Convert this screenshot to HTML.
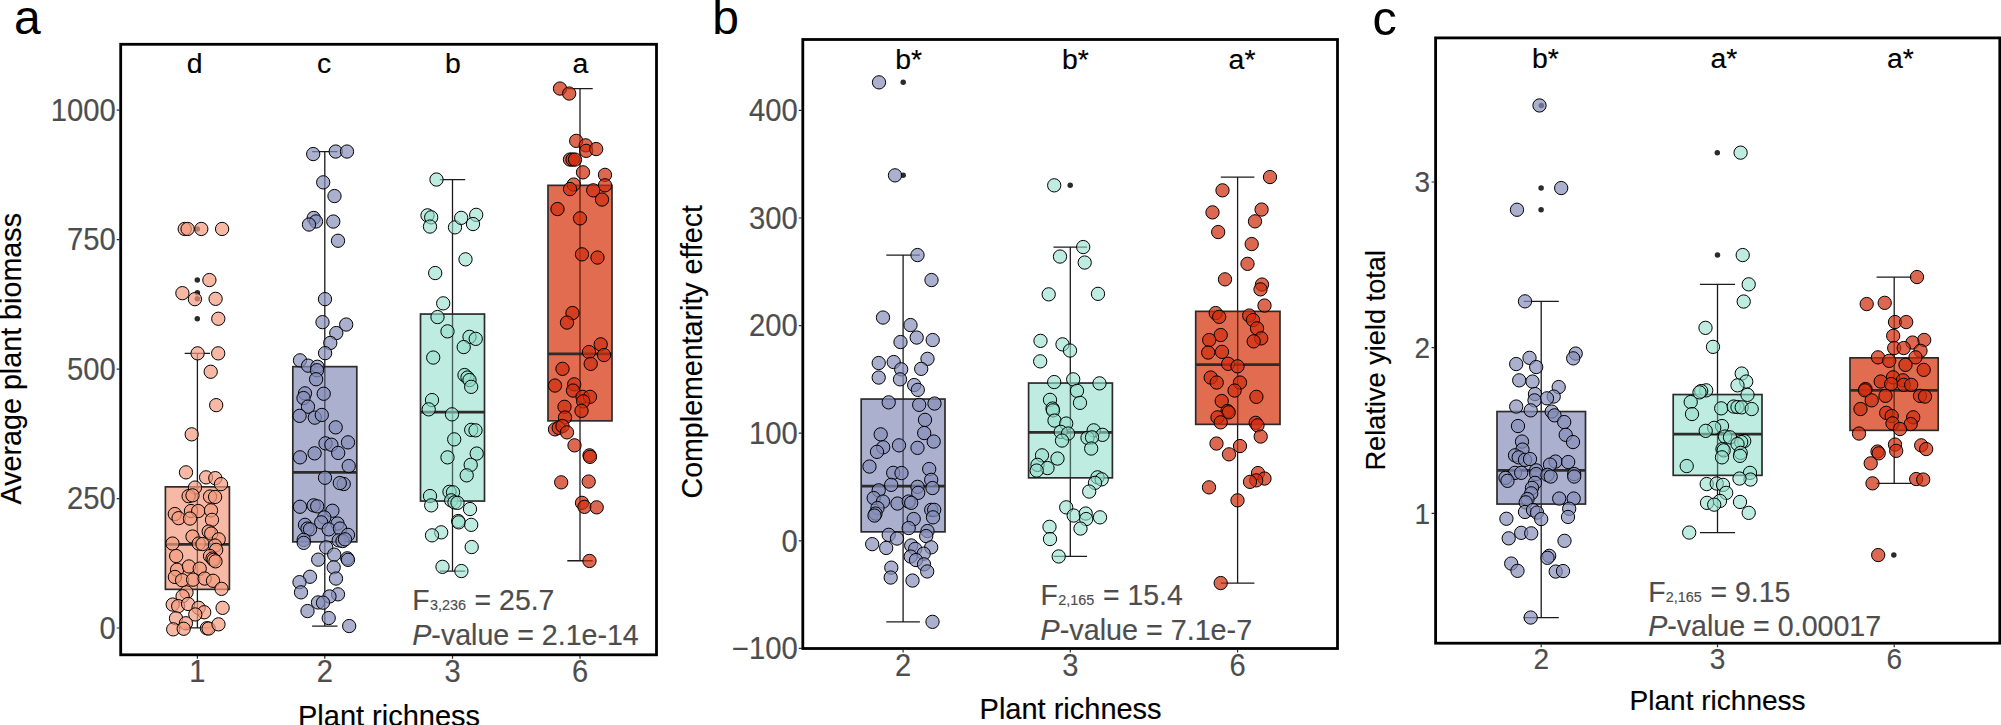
<!DOCTYPE html>
<html lang="en"><head><meta charset="utf-8"><title>Plant richness boxplots</title>
<style>
html,body{margin:0;padding:0;background:#fff;}
body{width:2001px;height:725px;overflow:hidden;}
svg{display:block;}
text{font-family:"Liberation Sans", sans-serif;}
.eb{fill:none;stroke:#1c1a1a;stroke-width:1.3;}
.bx{stroke:#2e2b2b;stroke-width:1.7;}
.md{fill:none;stroke:#2e2b2b;stroke-width:2.7;}
.fr{fill:none;stroke:#000;stroke-width:2.8;}
.tk{fill:none;stroke:#2e2b2b;stroke-width:1.2;}
</style></head><body>
<svg width="2001" height="725" viewBox="0 0 2001 725">
<rect width="2001" height="725" fill="#fff"/>
<g id="panel-a">
<g transform="translate(0 0.35)">
<path d="M184.7 353H210.1M184.7 627.5H210.1M197.4 353V627.5" class="eb"/>
<path d="M312.1 151.2H337.5M312.1 625.7H337.5M324.8 151.2V625.7" class="eb"/>
<path d="M439.8 179.2H465.2M439.8 570.7H465.2M452.5 179.2V570.7" class="eb"/>
<path d="M567.3 88.2H592.7M567.3 560.4H592.7M580 88.2V560.4" class="eb"/>
<rect x="165.4" y="486.5" width="64" height="102.5" fill="#F39B7F" fill-opacity="0.7" class="bx"/>
<path d="M165.4 544H229.4" class="md"/>
<path d="M197.4 486.5V589" class="eb" stroke-opacity="0.4"/>
<rect x="292.8" y="366.3" width="64" height="175.2" fill="#868FB9" fill-opacity="0.7" class="bx"/>
<path d="M292.8 472H356.8" class="md"/>
<path d="M324.8 366.3V541.5" class="eb" stroke-opacity="0.4"/>
<rect x="420.5" y="313.7" width="64" height="187" fill="#94DFCB" fill-opacity="0.6" class="bx"/>
<path d="M420.5 411.7H484.5" class="md"/>
<path d="M452.5 313.7V500.7" class="eb" stroke-opacity="0.4"/>
<rect x="548" y="185" width="64" height="235.5" fill="#D5330B" fill-opacity="0.72" class="bx"/>
<path d="M548 353.5H612" class="md"/>
<path d="M580 185V420.5" class="eb" stroke-opacity="0.4"/>
<g fill="#2b2b2b">
<circle cx="197.3" cy="228.6" r="2.75"/>
<circle cx="197.3" cy="279.7" r="2.75"/>
<circle cx="197.4" cy="292.3" r="2.75"/>
<circle cx="197.3" cy="298.3" r="2.75"/>
<circle cx="197.3" cy="318.4" r="2.75"/>
</g>
<g fill="#F39B7F" fill-opacity="0.7" stroke="#000" stroke-width="1.0">
<circle cx="184.7" cy="228.6" r="6.65"/>
<circle cx="187.6" cy="228.6" r="6.65"/>
<circle cx="201.3" cy="228.6" r="6.65"/>
<circle cx="222.1" cy="228.6" r="6.65"/>
<circle cx="209.4" cy="279.7" r="6.65"/>
<circle cx="182.4" cy="292.8" r="6.65"/>
<circle cx="194.9" cy="298.8" r="6.65"/>
<circle cx="215.6" cy="298.5" r="6.65"/>
<circle cx="218.3" cy="318.4" r="6.65"/>
<circle cx="197.6" cy="353" r="6.65"/>
<circle cx="218.2" cy="353" r="6.65"/>
<circle cx="210.7" cy="371.4" r="6.65"/>
<circle cx="216.2" cy="404.8" r="6.65"/>
<circle cx="191.7" cy="434" r="6.65"/>
<circle cx="186" cy="472" r="6.65"/>
<circle cx="206.1" cy="477" r="6.65"/>
<circle cx="215.3" cy="477.8" r="6.65"/>
<circle cx="221" cy="483.8" r="6.65"/>
<circle cx="195" cy="487.2" r="6.65"/>
<circle cx="188.6" cy="495.8" r="6.65"/>
<circle cx="192.5" cy="495" r="6.65"/>
<circle cx="210" cy="496.2" r="6.65"/>
<circle cx="215.1" cy="496.6" r="6.65"/>
<circle cx="174.8" cy="513.7" r="6.65"/>
<circle cx="191" cy="510.7" r="6.65"/>
<circle cx="198.2" cy="510.7" r="6.65"/>
<circle cx="211" cy="510" r="6.65"/>
<circle cx="178.6" cy="517.8" r="6.65"/>
<circle cx="190" cy="518.2" r="6.65"/>
<circle cx="212" cy="519.5" r="6.65"/>
<circle cx="208.7" cy="531.2" r="6.65"/>
<circle cx="211.2" cy="533.2" r="6.65"/>
<circle cx="192.5" cy="536.2" r="6.65"/>
<circle cx="218.7" cy="539" r="6.65"/>
<circle cx="172.5" cy="543.2" r="6.65"/>
<circle cx="198.7" cy="543.2" r="6.65"/>
<circle cx="202.5" cy="543.7" r="6.65"/>
<circle cx="215" cy="545.2" r="6.65"/>
<circle cx="216.2" cy="549.5" r="6.65"/>
<circle cx="176.2" cy="555.7" r="6.65"/>
<circle cx="210" cy="555.7" r="6.65"/>
<circle cx="212.5" cy="558.2" r="6.65"/>
<circle cx="213.7" cy="559.5" r="6.65"/>
<circle cx="215.5" cy="561" r="6.65"/>
<circle cx="177.1" cy="569.4" r="6.65"/>
<circle cx="188.9" cy="566.1" r="6.65"/>
<circle cx="199.7" cy="568.3" r="6.65"/>
<circle cx="174.9" cy="576.6" r="6.65"/>
<circle cx="182.1" cy="579.9" r="6.65"/>
<circle cx="193.1" cy="579.3" r="6.65"/>
<circle cx="204.7" cy="578.2" r="6.65"/>
<circle cx="213" cy="580.4" r="6.65"/>
<circle cx="221.5" cy="588.5" r="6.65"/>
<circle cx="186.5" cy="592" r="6.65"/>
<circle cx="182.6" cy="595.9" r="6.65"/>
<circle cx="172.7" cy="604.2" r="6.65"/>
<circle cx="178.2" cy="605.8" r="6.65"/>
<circle cx="188.1" cy="603.6" r="6.65"/>
<circle cx="198.6" cy="607.5" r="6.65"/>
<circle cx="204.2" cy="611.9" r="6.65"/>
<circle cx="222.6" cy="607.5" r="6.65"/>
<circle cx="195.3" cy="614.1" r="6.65"/>
<circle cx="176" cy="618" r="6.65"/>
<circle cx="185.9" cy="622.9" r="6.65"/>
<circle cx="173.2" cy="629" r="6.65"/>
<circle cx="183.7" cy="628.4" r="6.65"/>
<circle cx="206.9" cy="627.9" r="6.65"/>
<circle cx="208.6" cy="628.2" r="6.65"/>
<circle cx="218.5" cy="624" r="6.65"/>
</g>
<g fill="#868FB9" fill-opacity="0.7" stroke="#000" stroke-width="1.0">
<circle cx="313.2" cy="153.7" r="6.65"/>
<circle cx="335.7" cy="151.2" r="6.65"/>
<circle cx="347" cy="151.2" r="6.65"/>
<circle cx="323.2" cy="182" r="6.65"/>
<circle cx="334.5" cy="195.7" r="6.65"/>
<circle cx="313.7" cy="217.6" r="6.65"/>
<circle cx="316" cy="221.1" r="6.65"/>
<circle cx="309" cy="224.2" r="6.65"/>
<circle cx="333.3" cy="221.2" r="6.65"/>
<circle cx="338" cy="240.4" r="6.65"/>
<circle cx="325" cy="298.8" r="6.65"/>
<circle cx="322.5" cy="321.8" r="6.65"/>
<circle cx="346.2" cy="324.2" r="6.65"/>
<circle cx="336.3" cy="332.7" r="6.65"/>
<circle cx="330.3" cy="342.6" r="6.65"/>
<circle cx="325.1" cy="352.8" r="6.65"/>
<circle cx="300" cy="360" r="6.65"/>
<circle cx="308.1" cy="365.3" r="6.65"/>
<circle cx="317.4" cy="366.4" r="6.65"/>
<circle cx="317" cy="369.9" r="6.65"/>
<circle cx="316.1" cy="378.9" r="6.65"/>
<circle cx="305" cy="393" r="6.65"/>
<circle cx="323.7" cy="393.4" r="6.65"/>
<circle cx="303.5" cy="397.7" r="6.65"/>
<circle cx="308" cy="406.3" r="6.65"/>
<circle cx="299.6" cy="415.5" r="6.65"/>
<circle cx="314.8" cy="417.3" r="6.65"/>
<circle cx="321.8" cy="414.6" r="6.65"/>
<circle cx="335.7" cy="427" r="6.65"/>
<circle cx="348" cy="442" r="6.65"/>
<circle cx="325.5" cy="443" r="6.65"/>
<circle cx="331.4" cy="444.4" r="6.65"/>
<circle cx="314.6" cy="453" r="6.65"/>
<circle cx="338.2" cy="452.6" r="6.65"/>
<circle cx="300" cy="457" r="6.65"/>
<circle cx="348.7" cy="465.7" r="6.65"/>
<circle cx="325" cy="477.4" r="6.65"/>
<circle cx="343.7" cy="483.7" r="6.65"/>
<circle cx="339.8" cy="482.7" r="6.65"/>
<circle cx="300" cy="506.4" r="6.65"/>
<circle cx="313.7" cy="505" r="6.65"/>
<circle cx="317.2" cy="506" r="6.65"/>
<circle cx="332.4" cy="510.4" r="6.65"/>
<circle cx="324.3" cy="517.1" r="6.65"/>
<circle cx="321.2" cy="522" r="6.65"/>
<circle cx="337.5" cy="523.2" r="6.65"/>
<circle cx="305" cy="524.5" r="6.65"/>
<circle cx="307.5" cy="528.2" r="6.65"/>
<circle cx="310" cy="529" r="6.65"/>
<circle cx="328.7" cy="529" r="6.65"/>
<circle cx="340" cy="528.2" r="6.65"/>
<circle cx="348" cy="534.5" r="6.65"/>
<circle cx="303.7" cy="539.5" r="6.65"/>
<circle cx="303.7" cy="542.5" r="6.65"/>
<circle cx="338.7" cy="540" r="6.65"/>
<circle cx="342.5" cy="540.7" r="6.65"/>
<circle cx="345" cy="539" r="6.65"/>
<circle cx="326.2" cy="547" r="6.65"/>
<circle cx="334.2" cy="554.3" r="6.65"/>
<circle cx="347.3" cy="558" r="6.65"/>
<circle cx="348" cy="559.5" r="6.65"/>
<circle cx="318.2" cy="559.3" r="6.65"/>
<circle cx="333.7" cy="567" r="6.65"/>
<circle cx="310" cy="576.4" r="6.65"/>
<circle cx="336" cy="578.2" r="6.65"/>
<circle cx="299.5" cy="581.8" r="6.65"/>
<circle cx="301" cy="592" r="6.65"/>
<circle cx="338" cy="594" r="6.65"/>
<circle cx="329.5" cy="596.1" r="6.65"/>
<circle cx="318" cy="602.1" r="6.65"/>
<circle cx="323" cy="602.3" r="6.65"/>
<circle cx="307.5" cy="610.7" r="6.65"/>
<circle cx="328.7" cy="617.7" r="6.65"/>
<circle cx="349.2" cy="625.7" r="6.65"/>
</g>
<g fill="#94DFCB" fill-opacity="0.6" stroke="#000" stroke-width="1.0">
<circle cx="436.5" cy="179.2" r="6.65"/>
<circle cx="427.5" cy="215" r="6.65"/>
<circle cx="431.2" cy="217" r="6.65"/>
<circle cx="430" cy="226.2" r="6.65"/>
<circle cx="455" cy="227" r="6.65"/>
<circle cx="461.2" cy="217.5" r="6.65"/>
<circle cx="476.2" cy="214.5" r="6.65"/>
<circle cx="473" cy="223.7" r="6.65"/>
<circle cx="465.5" cy="259" r="6.65"/>
<circle cx="435.2" cy="272.7" r="6.65"/>
<circle cx="443.2" cy="303" r="6.65"/>
<circle cx="437.5" cy="316.7" r="6.65"/>
<circle cx="447.5" cy="331" r="6.65"/>
<circle cx="469.5" cy="336.5" r="6.65"/>
<circle cx="475.7" cy="338.5" r="6.65"/>
<circle cx="463.7" cy="346.7" r="6.65"/>
<circle cx="433.2" cy="357.2" r="6.65"/>
<circle cx="464.5" cy="374.7" r="6.65"/>
<circle cx="467.5" cy="377.2" r="6.65"/>
<circle cx="469.5" cy="379.7" r="6.65"/>
<circle cx="471.2" cy="386.5" r="6.65"/>
<circle cx="432" cy="399.7" r="6.65"/>
<circle cx="428.7" cy="409" r="6.65"/>
<circle cx="452" cy="414" r="6.65"/>
<circle cx="471.2" cy="429.5" r="6.65"/>
<circle cx="475.5" cy="430" r="6.65"/>
<circle cx="454.2" cy="439" r="6.65"/>
<circle cx="476.7" cy="453.2" r="6.65"/>
<circle cx="447.5" cy="457" r="6.65"/>
<circle cx="470.7" cy="464.5" r="6.65"/>
<circle cx="466.7" cy="475" r="6.65"/>
<circle cx="430" cy="495.7" r="6.65"/>
<circle cx="449.5" cy="491.5" r="6.65"/>
<circle cx="453" cy="492" r="6.65"/>
<circle cx="451.2" cy="500" r="6.65"/>
<circle cx="454.5" cy="502" r="6.65"/>
<circle cx="457.5" cy="502.5" r="6.65"/>
<circle cx="431.2" cy="505" r="6.65"/>
<circle cx="470" cy="508.7" r="6.65"/>
<circle cx="458.2" cy="520.7" r="6.65"/>
<circle cx="458.7" cy="522" r="6.65"/>
<circle cx="471.2" cy="524.5" r="6.65"/>
<circle cx="441.2" cy="532" r="6.65"/>
<circle cx="432" cy="535" r="6.65"/>
<circle cx="471.7" cy="546.7" r="6.65"/>
<circle cx="442.5" cy="566.5" r="6.65"/>
<circle cx="461.4" cy="570.7" r="6.65"/>
</g>
<g fill="#D02E0F" fill-opacity="0.72" stroke="#000" stroke-width="1.0">
<circle cx="560" cy="88.2" r="6.65"/>
<circle cx="569.2" cy="93.2" r="6.65"/>
<circle cx="576.2" cy="140.5" r="6.65"/>
<circle cx="585.7" cy="145" r="6.65"/>
<circle cx="586.2" cy="150.5" r="6.65"/>
<circle cx="596.2" cy="148.7" r="6.65"/>
<circle cx="570" cy="159.2" r="6.65"/>
<circle cx="572.5" cy="159.2" r="6.65"/>
<circle cx="575" cy="159.2" r="6.65"/>
<circle cx="583" cy="172" r="6.65"/>
<circle cx="605" cy="174.5" r="6.65"/>
<circle cx="573.7" cy="184.2" r="6.65"/>
<circle cx="605" cy="185" r="6.65"/>
<circle cx="570" cy="188.7" r="6.65"/>
<circle cx="593.2" cy="190" r="6.65"/>
<circle cx="602" cy="199.2" r="6.65"/>
<circle cx="557.5" cy="208.7" r="6.65"/>
<circle cx="580" cy="218" r="6.65"/>
<circle cx="582" cy="254" r="6.65"/>
<circle cx="597.5" cy="257.2" r="6.65"/>
<circle cx="572.5" cy="312.7" r="6.65"/>
<circle cx="567" cy="322.2" r="6.65"/>
<circle cx="600.7" cy="344" r="6.65"/>
<circle cx="589" cy="351.7" r="6.65"/>
<circle cx="604" cy="354.7" r="6.65"/>
<circle cx="590.7" cy="363.5" r="6.65"/>
<circle cx="562.5" cy="368.5" r="6.65"/>
<circle cx="555" cy="385.2" r="6.65"/>
<circle cx="574.2" cy="384" r="6.65"/>
<circle cx="573" cy="390.2" r="6.65"/>
<circle cx="582.5" cy="396.5" r="6.65"/>
<circle cx="590" cy="396.5" r="6.65"/>
<circle cx="583.2" cy="401" r="6.65"/>
<circle cx="564.5" cy="406.5" r="6.65"/>
<circle cx="581.5" cy="410.5" r="6.65"/>
<circle cx="565" cy="417.2" r="6.65"/>
<circle cx="555" cy="429" r="6.65"/>
<circle cx="558.7" cy="427.5" r="6.65"/>
<circle cx="562.5" cy="425.7" r="6.65"/>
<circle cx="567" cy="432" r="6.65"/>
<circle cx="574.5" cy="445" r="6.65"/>
<circle cx="589.5" cy="455" r="6.65"/>
<circle cx="590" cy="456.5" r="6.65"/>
<circle cx="561.2" cy="482" r="6.65"/>
<circle cx="588.7" cy="481.2" r="6.65"/>
<circle cx="582" cy="502.5" r="6.65"/>
<circle cx="584.5" cy="506.5" r="6.65"/>
<circle cx="596.7" cy="507" r="6.65"/>
<circle cx="589.5" cy="560.6" r="6.65"/>
</g>
</g>
<path d="M116.7 110.2H119.4M116.7 239.7H119.4M116.7 369.1H119.4M116.7 498.6H119.4M116.7 628H119.4" class="tk"/>
<text x="50.8" y="120.9" font-size="30.7" fill="#4d4d4d" stroke="#4d4d4d" stroke-width="0.15" textLength="65" lengthAdjust="spacingAndGlyphs">1000</text>
<text x="67.1" y="250.3" font-size="30.7" fill="#4d4d4d" stroke="#4d4d4d" stroke-width="0.15" textLength="48.7" lengthAdjust="spacingAndGlyphs">750</text>
<text x="67.1" y="379.8" font-size="30.7" fill="#4d4d4d" stroke="#4d4d4d" stroke-width="0.15" textLength="48.7" lengthAdjust="spacingAndGlyphs">500</text>
<text x="67.1" y="509.2" font-size="30.7" fill="#4d4d4d" stroke="#4d4d4d" stroke-width="0.15" textLength="48.7" lengthAdjust="spacingAndGlyphs">250</text>
<text x="99.6" y="638.7" font-size="30.7" fill="#4d4d4d" stroke="#4d4d4d" stroke-width="0.15" textLength="16.2" lengthAdjust="spacingAndGlyphs">0</text>
<path d="M197.4 656.1V658.8M324.8 656.1V658.8M452.5 656.1V658.8M580 656.1V658.8" class="tk"/>
<text x="189.3" y="682" font-size="30.7" fill="#4d4d4d" stroke="#4d4d4d" stroke-width="0.15" textLength="16.2" lengthAdjust="spacingAndGlyphs">1</text>
<text x="316.7" y="682" font-size="30.7" fill="#4d4d4d" stroke="#4d4d4d" stroke-width="0.15" textLength="16.2" lengthAdjust="spacingAndGlyphs">2</text>
<text x="444.4" y="682" font-size="30.7" fill="#4d4d4d" stroke="#4d4d4d" stroke-width="0.15" textLength="16.2" lengthAdjust="spacingAndGlyphs">3</text>
<text x="571.9" y="682" font-size="30.7" fill="#4d4d4d" stroke="#4d4d4d" stroke-width="0.15" textLength="16.2" lengthAdjust="spacingAndGlyphs">6</text>
<rect x="120.7" y="44.3" width="535.8" height="610.5" class="fr"/>
<text x="186.7" y="73.2" font-size="28.4" fill="#000" stroke="#000" stroke-width="0.15">d</text>
<text x="317.1" y="73.2" font-size="28.4" fill="#000" stroke="#000" stroke-width="0.15">c</text>
<text x="445.1" y="73.2" font-size="28.4" fill="#000" stroke="#000" stroke-width="0.15">b</text>
<text x="572.5" y="73.2" font-size="28.4" fill="#000" stroke="#000" stroke-width="0.15">a</text>
<text x="13.9" y="34.4" font-size="48" fill="#000" stroke="#000" stroke-width="0">a</text>
<text transform="translate(21.2 504.5) rotate(-90)" font-size="29.0" fill="#000" stroke="#000" stroke-width="0.15" textLength="291.5" lengthAdjust="spacingAndGlyphs">Average plant biomass</text>
<text x="298" y="726" font-size="29.2" fill="#000" stroke="#000" stroke-width="0.15" textLength="182" lengthAdjust="spacingAndGlyphs">Plant richness</text>
<text x="412.3" y="610.2" font-size="29.8" fill="#4d4d4d" stroke="#4d4d4d" stroke-width="0.15" textLength="17.3" lengthAdjust="spacingAndGlyphs">F</text>
<text x="429.9" y="610.2" font-size="15.1" fill="#4d4d4d" stroke="#4d4d4d" stroke-width="0.15" textLength="36" lengthAdjust="spacingAndGlyphs">3,236</text>
<text x="474.6" y="610.2" font-size="29.8" fill="#4d4d4d" stroke="#4d4d4d" stroke-width="0.15" textLength="79.8" lengthAdjust="spacingAndGlyphs">= 25.7</text>
<text x="412.3" y="644.5" font-size="29" fill="#4d4d4d" stroke="#4d4d4d" stroke-width="0.15" textLength="226.5" lengthAdjust="spacingAndGlyphs"><tspan font-style="italic">P</tspan>-value = 2.1e-14</text>
</g>
<g id="panel-b">
<g transform="translate(0 0.35)">
<path d="M886.3 254.7H919.9M886.3 621.5H919.9M903.1 254.7V621.5" class="eb"/>
<path d="M1053.5 246.7H1087.1M1053.5 556.1H1087.1M1070.3 246.7V556.1" class="eb"/>
<path d="M1220.8 176.7H1254.4M1220.8 582.7H1254.4M1237.6 176.7V582.7" class="eb"/>
<rect x="861.2" y="398.7" width="83.8" height="132.8" fill="#868FB9" fill-opacity="0.7" class="bx"/>
<path d="M861.2 485.7H945" class="md"/>
<path d="M903.1 398.7V531.5" class="eb" stroke-opacity="0.4"/>
<rect x="1028.6" y="382.7" width="83.8" height="94.8" fill="#94DFCB" fill-opacity="0.6" class="bx"/>
<path d="M1028.6 432H1112.4" class="md"/>
<path d="M1070.5 382.7V477.5" class="eb" stroke-opacity="0.4"/>
<rect x="1195.7" y="311" width="84.3" height="113" fill="#D5330B" fill-opacity="0.72" class="bx"/>
<path d="M1195.7 364.2H1280" class="md"/>
<path d="M1237.8 311V424" class="eb" stroke-opacity="0.4"/>
<g fill="#2b2b2b">
<circle cx="903.2" cy="82" r="2.75"/>
<circle cx="903.2" cy="175" r="2.75"/>
<circle cx="1070.2" cy="185" r="2.75"/>
</g>
<g fill="#868FB9" fill-opacity="0.7" stroke="#000" stroke-width="1.0">
<circle cx="879" cy="82" r="6.65"/>
<circle cx="895" cy="175" r="6.65"/>
<circle cx="917.5" cy="254.7" r="6.65"/>
<circle cx="931.5" cy="279.7" r="6.65"/>
<circle cx="883" cy="317.2" r="6.65"/>
<circle cx="910.5" cy="324.7" r="6.65"/>
<circle cx="916.7" cy="337.2" r="6.65"/>
<circle cx="932.7" cy="339.7" r="6.65"/>
<circle cx="900.5" cy="341.7" r="6.65"/>
<circle cx="927.5" cy="358.5" r="6.65"/>
<circle cx="878.7" cy="362.7" r="6.65"/>
<circle cx="893.7" cy="361.7" r="6.65"/>
<circle cx="901.2" cy="369" r="6.65"/>
<circle cx="921.2" cy="368.5" r="6.65"/>
<circle cx="878.7" cy="377.2" r="6.65"/>
<circle cx="900" cy="379" r="6.65"/>
<circle cx="914.2" cy="384.7" r="6.65"/>
<circle cx="917.8" cy="389.5" r="6.65"/>
<circle cx="888.7" cy="402" r="6.65"/>
<circle cx="919.2" cy="404.5" r="6.65"/>
<circle cx="934.5" cy="403.2" r="6.65"/>
<circle cx="925" cy="419.5" r="6.65"/>
<circle cx="924.2" cy="432.7" r="6.65"/>
<circle cx="880.7" cy="434" r="6.65"/>
<circle cx="933.7" cy="441.2" r="6.65"/>
<circle cx="899" cy="445" r="6.65"/>
<circle cx="917.5" cy="447.5" r="6.65"/>
<circle cx="883.2" cy="447" r="6.65"/>
<circle cx="877" cy="451.5" r="6.65"/>
<circle cx="869.5" cy="466.2" r="6.65"/>
<circle cx="929.2" cy="468.7" r="6.65"/>
<circle cx="893.2" cy="472.5" r="6.65"/>
<circle cx="901.5" cy="472.7" r="6.65"/>
<circle cx="931.2" cy="479.5" r="6.65"/>
<circle cx="891.2" cy="484.5" r="6.65"/>
<circle cx="917.5" cy="486.5" r="6.65"/>
<circle cx="932.5" cy="487.7" r="6.65"/>
<circle cx="878.7" cy="490" r="6.65"/>
<circle cx="918.2" cy="492.5" r="6.65"/>
<circle cx="873.7" cy="497.7" r="6.65"/>
<circle cx="883" cy="501.2" r="6.65"/>
<circle cx="897.5" cy="503.2" r="6.65"/>
<circle cx="908.7" cy="501.2" r="6.65"/>
<circle cx="911.2" cy="502.5" r="6.65"/>
<circle cx="877.5" cy="507.7" r="6.65"/>
<circle cx="931.2" cy="509.5" r="6.65"/>
<circle cx="934.2" cy="509.5" r="6.65"/>
<circle cx="875.5" cy="513.2" r="6.65"/>
<circle cx="874.5" cy="515.2" r="6.65"/>
<circle cx="913.7" cy="518.7" r="6.65"/>
<circle cx="933" cy="517" r="6.65"/>
<circle cx="908.7" cy="527.7" r="6.65"/>
<circle cx="927.5" cy="530.7" r="6.65"/>
<circle cx="926.2" cy="535.7" r="6.65"/>
<circle cx="888.7" cy="534.5" r="6.65"/>
<circle cx="897" cy="538.2" r="6.65"/>
<circle cx="872.2" cy="543.8" r="6.65"/>
<circle cx="886.2" cy="547.6" r="6.65"/>
<circle cx="911.2" cy="545.1" r="6.65"/>
<circle cx="915.2" cy="548.6" r="6.65"/>
<circle cx="931.2" cy="547" r="6.65"/>
<circle cx="923.7" cy="553.3" r="6.65"/>
<circle cx="910.7" cy="556.2" r="6.65"/>
<circle cx="916" cy="559.7" r="6.65"/>
<circle cx="924" cy="564" r="6.65"/>
<circle cx="891.3" cy="567.3" r="6.65"/>
<circle cx="927.2" cy="571.1" r="6.65"/>
<circle cx="890.7" cy="577.2" r="6.65"/>
<circle cx="912.5" cy="580.2" r="6.65"/>
<circle cx="932.5" cy="621.5" r="6.65"/>
</g>
<g fill="#94DFCB" fill-opacity="0.6" stroke="#000" stroke-width="1.0">
<circle cx="1054.2" cy="185" r="6.65"/>
<circle cx="1083.2" cy="246.7" r="6.65"/>
<circle cx="1060" cy="256.2" r="6.65"/>
<circle cx="1084.7" cy="262.2" r="6.65"/>
<circle cx="1048.7" cy="294" r="6.65"/>
<circle cx="1098" cy="293.5" r="6.65"/>
<circle cx="1040.5" cy="340.5" r="6.65"/>
<circle cx="1062.5" cy="344" r="6.65"/>
<circle cx="1070" cy="350.2" r="6.65"/>
<circle cx="1040.2" cy="361" r="6.65"/>
<circle cx="1054.2" cy="381.7" r="6.65"/>
<circle cx="1073.2" cy="379" r="6.65"/>
<circle cx="1099.5" cy="383" r="6.65"/>
<circle cx="1077" cy="390.5" r="6.65"/>
<circle cx="1050" cy="399.5" r="6.65"/>
<circle cx="1052.5" cy="408.2" r="6.65"/>
<circle cx="1080" cy="402.5" r="6.65"/>
<circle cx="1053" cy="410" r="6.65"/>
<circle cx="1054.5" cy="420.2" r="6.65"/>
<circle cx="1066.2" cy="423.2" r="6.65"/>
<circle cx="1093.7" cy="430" r="6.65"/>
<circle cx="1060.7" cy="431.5" r="6.65"/>
<circle cx="1068" cy="433.2" r="6.65"/>
<circle cx="1102.5" cy="434.5" r="6.65"/>
<circle cx="1087.5" cy="437.5" r="6.65"/>
<circle cx="1092" cy="437" r="6.65"/>
<circle cx="1062" cy="440.2" r="6.65"/>
<circle cx="1091.2" cy="448.2" r="6.65"/>
<circle cx="1042" cy="455" r="6.65"/>
<circle cx="1057.5" cy="458.2" r="6.65"/>
<circle cx="1037.5" cy="464.5" r="6.65"/>
<circle cx="1047.5" cy="467.7" r="6.65"/>
<circle cx="1036.7" cy="470.2" r="6.65"/>
<circle cx="1097.5" cy="477" r="6.65"/>
<circle cx="1101.7" cy="479" r="6.65"/>
<circle cx="1095" cy="482.5" r="6.65"/>
<circle cx="1089.2" cy="491.2" r="6.65"/>
<circle cx="1066.2" cy="507" r="6.65"/>
<circle cx="1073.7" cy="515.2" r="6.65"/>
<circle cx="1085.7" cy="513.2" r="6.65"/>
<circle cx="1086.2" cy="518.7" r="6.65"/>
<circle cx="1100" cy="517" r="6.65"/>
<circle cx="1049.5" cy="526.5" r="6.65"/>
<circle cx="1080.5" cy="528.2" r="6.65"/>
<circle cx="1050" cy="538.7" r="6.65"/>
<circle cx="1058.7" cy="556.1" r="6.65"/>
</g>
<g fill="#D02E0F" fill-opacity="0.72" stroke="#000" stroke-width="1.0">
<circle cx="1270" cy="176.7" r="6.65"/>
<circle cx="1222.5" cy="190" r="6.65"/>
<circle cx="1212.5" cy="212" r="6.65"/>
<circle cx="1261.6" cy="209.2" r="6.65"/>
<circle cx="1255" cy="221" r="6.65"/>
<circle cx="1218.2" cy="231.7" r="6.65"/>
<circle cx="1251.7" cy="243.7" r="6.65"/>
<circle cx="1247.5" cy="263.5" r="6.65"/>
<circle cx="1225" cy="279" r="6.65"/>
<circle cx="1262" cy="284.2" r="6.65"/>
<circle cx="1260.5" cy="289" r="6.65"/>
<circle cx="1264.5" cy="305.2" r="6.65"/>
<circle cx="1215.7" cy="312.7" r="6.65"/>
<circle cx="1219.2" cy="316.5" r="6.65"/>
<circle cx="1249.2" cy="315.2" r="6.65"/>
<circle cx="1253" cy="319.7" r="6.65"/>
<circle cx="1257" cy="328" r="6.65"/>
<circle cx="1220.7" cy="334.7" r="6.65"/>
<circle cx="1209.2" cy="339.7" r="6.65"/>
<circle cx="1261.2" cy="338" r="6.65"/>
<circle cx="1253.7" cy="341" r="6.65"/>
<circle cx="1208.2" cy="352.2" r="6.65"/>
<circle cx="1222" cy="351.5" r="6.65"/>
<circle cx="1228.2" cy="363.5" r="6.65"/>
<circle cx="1237.5" cy="366" r="6.65"/>
<circle cx="1210.7" cy="377.2" r="6.65"/>
<circle cx="1216.7" cy="382.2" r="6.65"/>
<circle cx="1240" cy="382.2" r="6.65"/>
<circle cx="1234.6" cy="390.2" r="6.65"/>
<circle cx="1256.4" cy="396.5" r="6.65"/>
<circle cx="1221.7" cy="400.7" r="6.65"/>
<circle cx="1227.5" cy="410.7" r="6.65"/>
<circle cx="1228.7" cy="412" r="6.65"/>
<circle cx="1217.5" cy="417" r="6.65"/>
<circle cx="1220.7" cy="422" r="6.65"/>
<circle cx="1255.7" cy="422.5" r="6.65"/>
<circle cx="1257.5" cy="425" r="6.65"/>
<circle cx="1260.7" cy="436.2" r="6.65"/>
<circle cx="1216.5" cy="443.2" r="6.65"/>
<circle cx="1240" cy="445.7" r="6.65"/>
<circle cx="1229" cy="454" r="6.65"/>
<circle cx="1258" cy="472.7" r="6.65"/>
<circle cx="1264.5" cy="478.2" r="6.65"/>
<circle cx="1256.2" cy="480" r="6.65"/>
<circle cx="1250" cy="481.5" r="6.65"/>
<circle cx="1209" cy="487" r="6.65"/>
<circle cx="1237.5" cy="500" r="6.65"/>
<circle cx="1220.7" cy="582.7" r="6.65"/>
</g>
</g>
<path d="M798.8 110.4H801.5M798.8 218H801.5M798.8 325.6H801.5M798.8 433.2H801.5M798.8 540.8H801.5M798.8 648.4H801.5" class="tk"/>
<text x="749" y="121.1" font-size="30.7" fill="#4d4d4d" stroke="#4d4d4d" stroke-width="0.15" textLength="48.7" lengthAdjust="spacingAndGlyphs">400</text>
<text x="749" y="228.7" font-size="30.7" fill="#4d4d4d" stroke="#4d4d4d" stroke-width="0.15" textLength="48.7" lengthAdjust="spacingAndGlyphs">300</text>
<text x="749" y="336.3" font-size="30.7" fill="#4d4d4d" stroke="#4d4d4d" stroke-width="0.15" textLength="48.7" lengthAdjust="spacingAndGlyphs">200</text>
<text x="749" y="443.9" font-size="30.7" fill="#4d4d4d" stroke="#4d4d4d" stroke-width="0.15" textLength="48.7" lengthAdjust="spacingAndGlyphs">100</text>
<text x="781.5" y="551.5" font-size="30.7" fill="#4d4d4d" stroke="#4d4d4d" stroke-width="0.15" textLength="16.2" lengthAdjust="spacingAndGlyphs">0</text>
<text x="731.9" y="659.1" font-size="30.7" fill="#4d4d4d" stroke="#4d4d4d" stroke-width="0.15" textLength="65.8" lengthAdjust="spacingAndGlyphs">−100</text>
<path d="M903.1 649.8V652.5M1070.3 649.8V652.5M1237.6 649.8V652.5" class="tk"/>
<text x="895" y="675.6" font-size="30.7" fill="#4d4d4d" stroke="#4d4d4d" stroke-width="0.15" textLength="16.2" lengthAdjust="spacingAndGlyphs">2</text>
<text x="1062.2" y="675.6" font-size="30.7" fill="#4d4d4d" stroke="#4d4d4d" stroke-width="0.15" textLength="16.2" lengthAdjust="spacingAndGlyphs">3</text>
<text x="1229.5" y="675.6" font-size="30.7" fill="#4d4d4d" stroke="#4d4d4d" stroke-width="0.15" textLength="16.2" lengthAdjust="spacingAndGlyphs">6</text>
<rect x="802.8" y="39.5" width="534.7" height="609" class="fr"/>
<text x="895.2" y="69.3" font-size="28.4" fill="#000" stroke="#000" stroke-width="0.15">b*</text>
<text x="1061.9" y="69.3" font-size="28.4" fill="#000" stroke="#000" stroke-width="0.15">b*</text>
<text x="1228.6" y="69.3" font-size="28.4" fill="#000" stroke="#000" stroke-width="0.15">a*</text>
<text x="712.3" y="34.4" font-size="48" fill="#000" stroke="#000" stroke-width="0">b</text>
<text transform="translate(701.5 498.5) rotate(-90)" font-size="29.0" fill="#000" stroke="#000" stroke-width="0.15" textLength="293.5" lengthAdjust="spacingAndGlyphs">Complementarity effect</text>
<text x="979.6" y="718.9" font-size="29.2" fill="#000" stroke="#000" stroke-width="0.15" textLength="182" lengthAdjust="spacingAndGlyphs">Plant richness</text>
<text x="1040.6" y="605.4" font-size="29.8" fill="#4d4d4d" stroke="#4d4d4d" stroke-width="0.15" textLength="17.3" lengthAdjust="spacingAndGlyphs">F</text>
<text x="1058.2" y="605.4" font-size="15.1" fill="#4d4d4d" stroke="#4d4d4d" stroke-width="0.15" textLength="36" lengthAdjust="spacingAndGlyphs">2,165</text>
<text x="1102.9" y="605.4" font-size="29.8" fill="#4d4d4d" stroke="#4d4d4d" stroke-width="0.15" textLength="79.8" lengthAdjust="spacingAndGlyphs">= 15.4</text>
<text x="1040.6" y="639.8" font-size="29" fill="#4d4d4d" stroke="#4d4d4d" stroke-width="0.15" textLength="211.5" lengthAdjust="spacingAndGlyphs"><tspan font-style="italic">P</tspan>-value = 7.1e-7</text>
</g>
<g id="panel-c">
<g transform="translate(0 0.35)">
<path d="M1523.6 301H1558.8M1523.6 617.2H1558.8M1541.2 301V617.2" class="eb"/>
<path d="M1699.9 284H1735.1M1699.9 532.2H1735.1M1717.5 284V532.2" class="eb"/>
<path d="M1876.6 276.7H1911.8M1876.6 483H1911.8M1894.2 276.7V483" class="eb"/>
<rect x="1497" y="411.2" width="88.5" height="92.5" fill="#868FB9" fill-opacity="0.7" class="bx"/>
<path d="M1497 470H1585.5" class="md"/>
<path d="M1541.2 411.2V503.7" class="eb" stroke-opacity="0.4"/>
<rect x="1673.2" y="394.2" width="88.8" height="80.8" fill="#94DFCB" fill-opacity="0.6" class="bx"/>
<path d="M1673.2 433.7H1762" class="md"/>
<path d="M1717.6 394.2V475" class="eb" stroke-opacity="0.4"/>
<rect x="1850" y="357.5" width="88.2" height="72.5" fill="#D5330B" fill-opacity="0.72" class="bx"/>
<path d="M1850 390H1938.2" class="md"/>
<path d="M1894.1 357.5V430" class="eb" stroke-opacity="0.4"/>
<g fill="#2b2b2b">
<circle cx="1541.3" cy="105.1" r="2.75"/>
<circle cx="1541.1" cy="187.7" r="2.75"/>
<circle cx="1541.1" cy="209.4" r="2.75"/>
<circle cx="1717.3" cy="152.3" r="2.75"/>
<circle cx="1717.5" cy="254.7" r="2.75"/>
<circle cx="1893.8" cy="554.7" r="2.75"/>
</g>
<g fill="#868FB9" fill-opacity="0.7" stroke="#000" stroke-width="1.0">
<circle cx="1539.5" cy="105.1" r="6.65"/>
<circle cx="1561.2" cy="187.7" r="6.65"/>
<circle cx="1517" cy="209.4" r="6.65"/>
<circle cx="1525" cy="301" r="6.65"/>
<circle cx="1575.7" cy="353.2" r="6.65"/>
<circle cx="1573.2" cy="358" r="6.65"/>
<circle cx="1529.5" cy="357.5" r="6.65"/>
<circle cx="1516.2" cy="363.7" r="6.65"/>
<circle cx="1536.2" cy="366.7" r="6.65"/>
<circle cx="1519.2" cy="380" r="6.65"/>
<circle cx="1532.5" cy="381.2" r="6.65"/>
<circle cx="1558.7" cy="386.7" r="6.65"/>
<circle cx="1535" cy="393.7" r="6.65"/>
<circle cx="1553.7" cy="396.2" r="6.65"/>
<circle cx="1547" cy="398" r="6.65"/>
<circle cx="1534.5" cy="400" r="6.65"/>
<circle cx="1516.2" cy="406.2" r="6.65"/>
<circle cx="1530.7" cy="410" r="6.65"/>
<circle cx="1551.7" cy="411.2" r="6.65"/>
<circle cx="1554.5" cy="415" r="6.65"/>
<circle cx="1564.2" cy="421.7" r="6.65"/>
<circle cx="1518" cy="425.7" r="6.65"/>
<circle cx="1565.7" cy="434.5" r="6.65"/>
<circle cx="1573" cy="441.7" r="6.65"/>
<circle cx="1522" cy="441.2" r="6.65"/>
<circle cx="1522.5" cy="449.2" r="6.65"/>
<circle cx="1515" cy="455" r="6.65"/>
<circle cx="1518.7" cy="457" r="6.65"/>
<circle cx="1525" cy="459.5" r="6.65"/>
<circle cx="1530" cy="458.7" r="6.65"/>
<circle cx="1555.5" cy="461.2" r="6.65"/>
<circle cx="1550" cy="464.2" r="6.65"/>
<circle cx="1568.2" cy="461.7" r="6.65"/>
<circle cx="1536.2" cy="470" r="6.65"/>
<circle cx="1515" cy="472.5" r="6.65"/>
<circle cx="1521.2" cy="472.5" r="6.65"/>
<circle cx="1536.2" cy="473.7" r="6.65"/>
<circle cx="1547.5" cy="474.5" r="6.65"/>
<circle cx="1550.7" cy="476.2" r="6.65"/>
<circle cx="1574.2" cy="473.7" r="6.65"/>
<circle cx="1574.2" cy="476.2" r="6.65"/>
<circle cx="1505.5" cy="477.5" r="6.65"/>
<circle cx="1507.5" cy="480.5" r="6.65"/>
<circle cx="1535" cy="482.5" r="6.65"/>
<circle cx="1532" cy="487.5" r="6.65"/>
<circle cx="1531.2" cy="493" r="6.65"/>
<circle cx="1527.5" cy="498.7" r="6.65"/>
<circle cx="1525.7" cy="502" r="6.65"/>
<circle cx="1559.2" cy="498.2" r="6.65"/>
<circle cx="1573.7" cy="498.2" r="6.65"/>
<circle cx="1569.2" cy="508.4" r="6.65"/>
<circle cx="1525" cy="511.6" r="6.65"/>
<circle cx="1533" cy="509.7" r="6.65"/>
<circle cx="1537" cy="512.2" r="6.65"/>
<circle cx="1568" cy="516.6" r="6.65"/>
<circle cx="1506.4" cy="518.4" r="6.65"/>
<circle cx="1541.2" cy="518.7" r="6.65"/>
<circle cx="1521.2" cy="532.5" r="6.65"/>
<circle cx="1531.2" cy="533" r="6.65"/>
<circle cx="1508.7" cy="538" r="6.65"/>
<circle cx="1564.5" cy="540.5" r="6.65"/>
<circle cx="1549.2" cy="555.5" r="6.65"/>
<circle cx="1547.5" cy="557.5" r="6.65"/>
<circle cx="1511.2" cy="563.2" r="6.65"/>
<circle cx="1517.5" cy="570.5" r="6.65"/>
<circle cx="1555.7" cy="571.2" r="6.65"/>
<circle cx="1563" cy="570.7" r="6.65"/>
<circle cx="1530.7" cy="617.2" r="6.65"/>
</g>
<g fill="#94DFCB" fill-opacity="0.6" stroke="#000" stroke-width="1.0">
<circle cx="1740.6" cy="152.3" r="6.65"/>
<circle cx="1742.7" cy="254.7" r="6.65"/>
<circle cx="1748.7" cy="284" r="6.65"/>
<circle cx="1743.7" cy="301.2" r="6.65"/>
<circle cx="1705.5" cy="327.5" r="6.65"/>
<circle cx="1713" cy="346.5" r="6.65"/>
<circle cx="1741.7" cy="373.2" r="6.65"/>
<circle cx="1746.2" cy="381.2" r="6.65"/>
<circle cx="1737.5" cy="385" r="6.65"/>
<circle cx="1706.2" cy="390" r="6.65"/>
<circle cx="1701.2" cy="390.7" r="6.65"/>
<circle cx="1699.5" cy="392" r="6.65"/>
<circle cx="1747.5" cy="394.5" r="6.65"/>
<circle cx="1690.7" cy="401.7" r="6.65"/>
<circle cx="1721.2" cy="408" r="6.65"/>
<circle cx="1733.7" cy="406.2" r="6.65"/>
<circle cx="1737.5" cy="406.7" r="6.65"/>
<circle cx="1741.7" cy="407" r="6.65"/>
<circle cx="1751.7" cy="408.7" r="6.65"/>
<circle cx="1692" cy="413.7" r="6.65"/>
<circle cx="1722" cy="425.7" r="6.65"/>
<circle cx="1714.2" cy="427.5" r="6.65"/>
<circle cx="1705.7" cy="430.5" r="6.65"/>
<circle cx="1725" cy="436.2" r="6.65"/>
<circle cx="1730" cy="437" r="6.65"/>
<circle cx="1744.2" cy="440.7" r="6.65"/>
<circle cx="1741.2" cy="441.7" r="6.65"/>
<circle cx="1737.5" cy="443.7" r="6.65"/>
<circle cx="1722.5" cy="448.7" r="6.65"/>
<circle cx="1723.7" cy="450" r="6.65"/>
<circle cx="1740.7" cy="452.5" r="6.65"/>
<circle cx="1740" cy="455.5" r="6.65"/>
<circle cx="1722" cy="457" r="6.65"/>
<circle cx="1686.7" cy="465.7" r="6.65"/>
<circle cx="1750" cy="472.5" r="6.65"/>
<circle cx="1750.5" cy="479.2" r="6.65"/>
<circle cx="1739.5" cy="478.2" r="6.65"/>
<circle cx="1706.7" cy="483.7" r="6.65"/>
<circle cx="1716.7" cy="483.2" r="6.65"/>
<circle cx="1723" cy="484.5" r="6.65"/>
<circle cx="1726.2" cy="492.5" r="6.65"/>
<circle cx="1720" cy="500.6" r="6.65"/>
<circle cx="1707" cy="502.5" r="6.65"/>
<circle cx="1714.2" cy="504.3" r="6.65"/>
<circle cx="1740" cy="501.6" r="6.65"/>
<circle cx="1748.7" cy="512.5" r="6.65"/>
<circle cx="1689.2" cy="532.2" r="6.65"/>
</g>
<g fill="#D02E0F" fill-opacity="0.72" stroke="#000" stroke-width="1.0">
<circle cx="1917" cy="276.7" r="6.65"/>
<circle cx="1866.7" cy="303.7" r="6.65"/>
<circle cx="1884.7" cy="302.5" r="6.65"/>
<circle cx="1895" cy="321.7" r="6.65"/>
<circle cx="1906.2" cy="321.7" r="6.65"/>
<circle cx="1893.2" cy="335.5" r="6.65"/>
<circle cx="1924.2" cy="339.6" r="6.65"/>
<circle cx="1912.5" cy="342.2" r="6.65"/>
<circle cx="1894.2" cy="347.7" r="6.65"/>
<circle cx="1903.7" cy="347.7" r="6.65"/>
<circle cx="1920.5" cy="350.5" r="6.65"/>
<circle cx="1878" cy="357" r="6.65"/>
<circle cx="1915.5" cy="357" r="6.65"/>
<circle cx="1889.2" cy="360.5" r="6.65"/>
<circle cx="1905.5" cy="364.5" r="6.65"/>
<circle cx="1923.7" cy="369.5" r="6.65"/>
<circle cx="1893" cy="377" r="6.65"/>
<circle cx="1880.7" cy="381.2" r="6.65"/>
<circle cx="1903" cy="380" r="6.65"/>
<circle cx="1891.2" cy="383.7" r="6.65"/>
<circle cx="1903.7" cy="384.5" r="6.65"/>
<circle cx="1911.2" cy="384.5" r="6.65"/>
<circle cx="1865.5" cy="388.7" r="6.65"/>
<circle cx="1865" cy="390" r="6.65"/>
<circle cx="1885.5" cy="395.5" r="6.65"/>
<circle cx="1920" cy="395.5" r="6.65"/>
<circle cx="1925" cy="396.2" r="6.65"/>
<circle cx="1871.7" cy="400" r="6.65"/>
<circle cx="1860.5" cy="408.7" r="6.65"/>
<circle cx="1886.2" cy="412.5" r="6.65"/>
<circle cx="1891.7" cy="415.7" r="6.65"/>
<circle cx="1913.2" cy="417" r="6.65"/>
<circle cx="1892.5" cy="423" r="6.65"/>
<circle cx="1910.7" cy="423.7" r="6.65"/>
<circle cx="1900" cy="428.7" r="6.65"/>
<circle cx="1859" cy="433.2" r="6.65"/>
<circle cx="1895" cy="444.2" r="6.65"/>
<circle cx="1921.2" cy="445" r="6.65"/>
<circle cx="1926.2" cy="448.7" r="6.65"/>
<circle cx="1896.2" cy="450.5" r="6.65"/>
<circle cx="1877.5" cy="451.2" r="6.65"/>
<circle cx="1878.7" cy="453" r="6.65"/>
<circle cx="1870.7" cy="463" r="6.65"/>
<circle cx="1916.2" cy="478.7" r="6.65"/>
<circle cx="1923.2" cy="479.2" r="6.65"/>
<circle cx="1872.5" cy="483" r="6.65"/>
<circle cx="1878.2" cy="554.7" r="6.65"/>
</g>
</g>
<path d="M1431.6 182H1434.3M1431.6 347.7H1434.3M1431.6 513.4H1434.3" class="tk"/>
<text x="1414.6" y="192.3" font-size="29.4" fill="#4d4d4d" stroke="#4d4d4d" stroke-width="0.15" textLength="15.6" lengthAdjust="spacingAndGlyphs">3</text>
<text x="1414.6" y="358" font-size="29.4" fill="#4d4d4d" stroke="#4d4d4d" stroke-width="0.15" textLength="15.6" lengthAdjust="spacingAndGlyphs">2</text>
<text x="1414.6" y="523.7" font-size="29.4" fill="#4d4d4d" stroke="#4d4d4d" stroke-width="0.15" textLength="15.6" lengthAdjust="spacingAndGlyphs">1</text>
<path d="M1541.2 644.5V647.2M1717.5 644.5V647.2M1894.2 644.5V647.2" class="tk"/>
<text x="1533.4" y="668.9" font-size="29.4" fill="#4d4d4d" stroke="#4d4d4d" stroke-width="0.15" textLength="15.6" lengthAdjust="spacingAndGlyphs">2</text>
<text x="1709.7" y="668.9" font-size="29.4" fill="#4d4d4d" stroke="#4d4d4d" stroke-width="0.15" textLength="15.6" lengthAdjust="spacingAndGlyphs">3</text>
<text x="1886.4" y="668.9" font-size="29.4" fill="#4d4d4d" stroke="#4d4d4d" stroke-width="0.15" textLength="15.6" lengthAdjust="spacingAndGlyphs">6</text>
<rect x="1435.6" y="37.9" width="564.2" height="605.3" class="fr"/>
<text x="1532" y="67.9" font-size="28.4" fill="#000" stroke="#000" stroke-width="0.15">b*</text>
<text x="1710.4" y="67.9" font-size="28.4" fill="#000" stroke="#000" stroke-width="0.15">a*</text>
<text x="1887" y="67.9" font-size="28.4" fill="#000" stroke="#000" stroke-width="0.15">a*</text>
<text x="1372.6" y="34.6" font-size="48.5" fill="#000" stroke="#000" stroke-width="0">c</text>
<text transform="translate(1384.5 470.5) rotate(-90)" font-size="27.8" fill="#000" stroke="#000" stroke-width="0.15" textLength="220.5" lengthAdjust="spacingAndGlyphs">Relative yield total</text>
<text x="1629.6" y="710.1" font-size="28" fill="#000" stroke="#000" stroke-width="0.15" textLength="176" lengthAdjust="spacingAndGlyphs">Plant richness</text>
<text x="1648.2" y="601.8" font-size="29.8" fill="#4d4d4d" stroke="#4d4d4d" stroke-width="0.15" textLength="17.3" lengthAdjust="spacingAndGlyphs">F</text>
<text x="1665.8" y="601.8" font-size="15.1" fill="#4d4d4d" stroke="#4d4d4d" stroke-width="0.15" textLength="36" lengthAdjust="spacingAndGlyphs">2,165</text>
<text x="1710.5" y="601.8" font-size="29.8" fill="#4d4d4d" stroke="#4d4d4d" stroke-width="0.15" textLength="79.8" lengthAdjust="spacingAndGlyphs">= 9.15</text>
<text x="1648.2" y="636.3" font-size="29" fill="#4d4d4d" stroke="#4d4d4d" stroke-width="0.15" textLength="233" lengthAdjust="spacingAndGlyphs"><tspan font-style="italic">P</tspan>-value = 0.00017</text>
</g>
</svg>
</body></html>
